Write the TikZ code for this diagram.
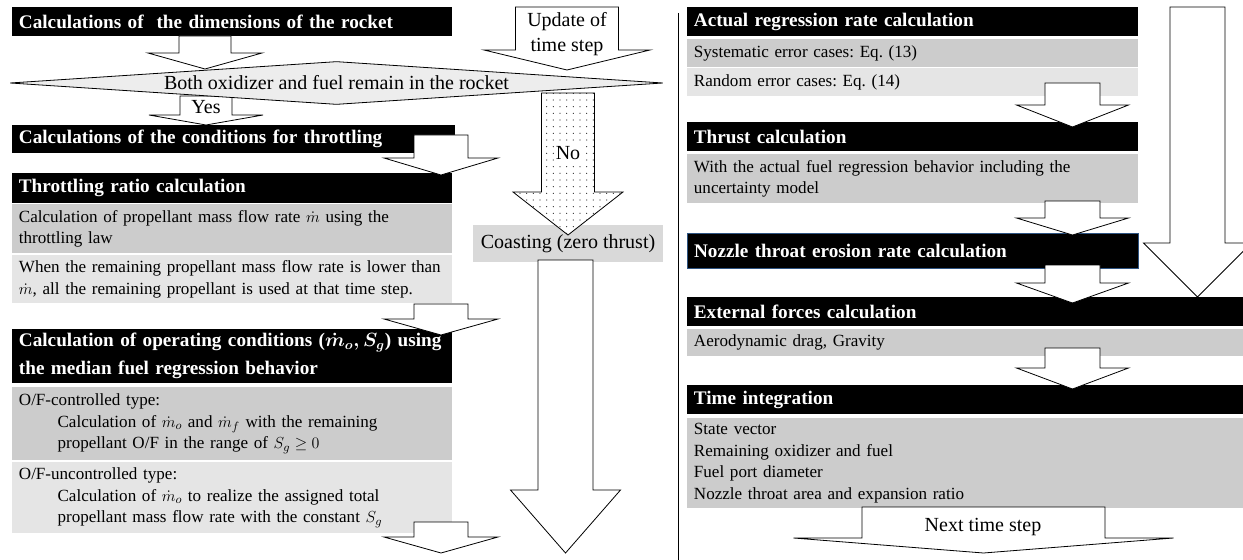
\documentclass[tikz,border=0pt]{standalone}
\usepackage{fontspec}
\setmainfont{Liberation Serif}
\frenchspacing
\usetikzlibrary{shapes.geometric, patterns.meta}
\definecolor{edgeblue}{RGB}{46,84,130}
\tikzset{
heading/.style={anchor=north west, fill=black, text=white, inner xsep=5pt, inner ysep=0pt, align=left, font=\fontsize{14.4}{18}\selectfont\bfseries\boldmath}, % black title bars
darkrow/.style={anchor=north west, fill=black!20, inner xsep=5pt, inner ysep=0pt, align=left, font=\fontsize{12.8}{16.2}\selectfont}, % grey text rows
lightrow/.style={darkrow, fill=black!10}, % lighter grey rows
blockarrow/.style={draw, fill=white, line width=0.6pt}, % hollow block arrows
arrowtext/.style={font=\fontsize{15}{18.5}\selectfont, align=center, inner sep=0pt}, % texts inside the arrows
}
% block arrow: centre x, half width of shaft, top, start of head, half width of head, tip
\newcommand{\blkarrow}[7][blockarrow]{%
  \draw[#1] (#2-#3,#4) -- (#2-#3,#5) -- (#2-#6,#5) -- (#2,#7) -- (#2+#6,#5) -- (#2+#3,#5) -- (#2+#3,#4) -- cycle;}

\begin{document}
\begin{tikzpicture}[x=0.75pt, y=-0.75pt]
    \useasboundingbox (0,0) rectangle (1243,560);
    % left column
    \node[heading, text width=320pt, minimum height=21.75pt] (dims) at (12,7) {Calculations of~ the dimensions of the rocket};
    \node[heading, text width=322pt, minimum height=21pt] (throttle) at (12,125) {Calculations of the conditions for throttling};
    \node[heading, text width=320pt, minimum height=22.5pt] (ratio) at (12,173) {Throttling ratio calculation};
    \node[darkrow, text width=320pt, minimum height=36.75pt] (ratiolaw) at (12,204) {Calculation of propellant mass flow rate $\dot{m}$ using the\\throttling law};
    \node[lightrow, text width=320pt, minimum height=36pt] (ratiorest) at (12,255) {When the remaining propellant mass flow rate is lower than\\$\dot{m}$, all the remaining propellant is used at that time step.};
    \node[heading, text width=320pt, minimum height=40.5pt] (operating) at (12,329) {Calculation of operating conditions ($\dot{m}_o, S_g$) using\\[3pt]the median fuel regression behavior};
    \node[darkrow, text width=320pt, minimum height=54.75pt] (oftype) at (12,387) {O/F-controlled type:\\\hspace*{29pt}Calculation of $\dot{m}_o$ and $\dot{m}_f$ with the remaining\\\hspace*{29pt}propellant O/F in the range of $S_g \geq 0$};
    \node[lightrow, text width=320pt, minimum height=53.25pt] (nooftype) at (12,462) {O/F-uncontrolled type:\\\hspace*{29pt}Calculation of $\dot{m}_o$ to realize the assigned total\\\hspace*{29pt}propellant mass flow rate with the constant $S_g$};
    \node[fill=black!15, minimum width=142.5pt, minimum height=27.75pt, font=\fontsize{15}{17}\selectfont] (coasting) at (568,243.5) {Coasting (zero thrust)};
    % right column
    \node[heading, text width=328pt, minimum height=21.75pt] (regression) at (687,7) {Actual regression rate calculation};
    \node[darkrow, text width=328pt, minimum height=21pt] (systematic) at (687,39) {Systematic error cases: Eq. (13)};
    \node[lightrow, text width=328pt, minimum height=21pt] (random) at (687,68) {Random error cases: Eq. (14)};
    \node[heading, text width=328pt, minimum height=21.75pt] (thrust) at (687,122) {Thrust calculation};
    \node[darkrow, text width=328pt, minimum height=36.75pt] (thrustrow) at (687,154) {With the actual fuel regression behavior including the\\uncertainty model};
    \node[heading, draw=edgeblue, line width=0.6pt, text width=328pt, minimum height=26.25pt] (erosion) at (687,233) {Nozzle throat erosion rate calculation};
    \node[heading, text width=407pt, minimum height=21.75pt] (external) at (687,297) {External forces calculation};
    \node[darkrow, text width=407pt, minimum height=20.25pt] (drag) at (687,329) {Aerodynamic drag, Gravity};
    \node[heading, text width=407pt, minimum height=21.75pt] (timeint) at (687,385) {Time integration};
    \node[darkrow, text width=407pt, minimum height=67.5pt] (state) at (687,418) {State vector\\Remaining oxidizer and fuel\\Fuel port diameter\\Nozzle throat area and expansion ratio};
    \draw[line width=0.6pt] (678,13) -- (678,560);
    % arrows of the left column
    \blkarrow{205}{26}{36}{53}{57}{69}
    \blkarrow{206}{26}{96}{115}{57}{125}
    \blkarrow{441}{27}{135}{158}{57}{175}
    \blkarrow{441}{27}{304}{319}{57}{335}
    \blkarrow{441}{27}{522}{537}{57}{553}
    \blkarrow{567}{51.5}{7}{50}{83}{70}
    \blkarrow[blockarrow, preaction={fill=white}, pattern={Dots[distance=5pt, radius=0.45pt]}, pattern color=black!80]{568}{26.5}{93}{192}{55}{235}
    \blkarrow{565.5}{27.5}{260}{490}{55}{553}
    % arrows of the right column
    \blkarrow{1072.5}{27.5}{83}{105}{56}{127}
    \blkarrow{1072.5}{27.5}{201}{218}{56}{235}
    \blkarrow{1072.5}{27.5}{265}{283}{56}{303}
    \blkarrow{1072.5}{27.5}{348}{368}{56}{389}
    \blkarrow{983.5}{121.5}{507}{538}{190}{553}
    \blkarrow{1197.5}{27.5}{7}{243}{54}{297}
    \node[diamond, draw, fill=black!7, line width=0.6pt, aspect=15, minimum width=489.75pt, minimum height=32.25pt, inner sep=0pt, font=\fontsize{15}{17}\selectfont] (remain) at (336.5,83) {Both oxidizer and fuel remain in the rocket};
    \node[arrowtext] (yes) at (206,107) {Yes};
    \node[arrowtext] (update) at (567,34) {Update of\\time step};
    \node[arrowtext, fill=white, inner sep=1pt] (no) at (568,153) {No};
    \node[arrowtext] (next) at (983,527) {Next time step};
\end{tikzpicture}
\end{document}
